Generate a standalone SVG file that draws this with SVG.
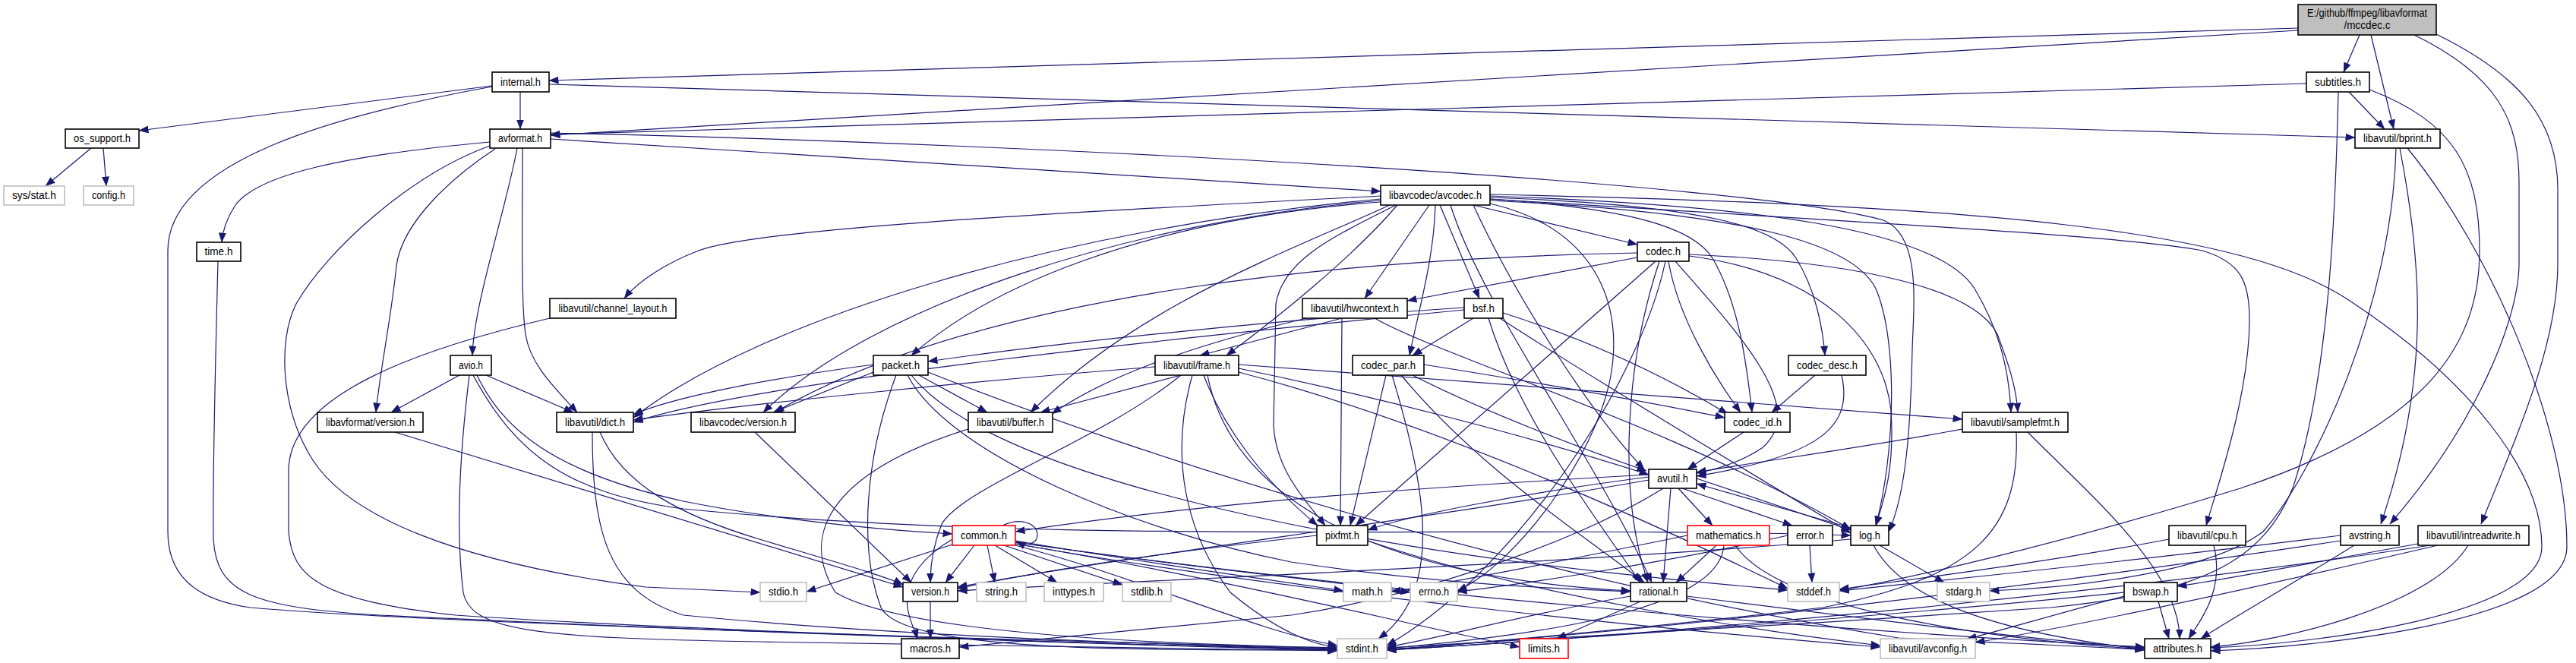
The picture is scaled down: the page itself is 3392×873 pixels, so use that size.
<svg xmlns="http://www.w3.org/2000/svg" width="3392" height="873" viewBox="0 0 3392 873">
<defs>
<marker id="ah" markerWidth="13" markerHeight="10" refX="12.5" refY="5" orient="auto" markerUnits="userSpaceOnUse"><path d="M0,0 L13,5 L0,10 z" fill="#191970"/></marker>
</defs>
<style>
.e path{fill:none;stroke:#191970;stroke-width:1.2;marker-end:url(#ah)}
.n rect{fill:#ffffff;stroke:#000000;stroke-width:1.6}
.g rect{fill:#ffffff;stroke:#bfbfbf;stroke-width:1.6}
.r rect{fill:#ffffff;stroke:#ff0000;stroke-width:1.6}
text{font-family:"Liberation Sans",Arial,sans-serif;font-size:14px;fill:#000000;text-anchor:middle}
</style>
<rect width="3392" height="873" fill="#ffffff"/>
<g id="edges" class="e">
<path d="M3026,37 L723,106"/>
<path d="M3026,40 L725,178"/>
<path d="M3107,46 L3086,95"/>
<path d="M3122,46 L3152,170"/>
<path d="M3179,46 C3290,100 3317,160 3317,240 L3317,347 C3317,420 3260,560 3147,690"/>
<path d="M3208,45 C3320,100 3368,160 3368,250 L3368,347 C3368,450 3320,560 3267,690"/>
<path d="M685,121 L685,170"/>
<path d="M648,113 L183,172"/>
<path d="M648,114 C450,150 221,210 221,330 L221,700 C221,760 260,790 330,800 C500,815 900,828 1200,838 C1500,846 1650,850 1761,854"/>
<path d="M723,111 L3101,181"/>
<path d="M3037,110 L725,177"/>
<path d="M3093,121 L3140,170"/>
<path d="M3079,121 C3075,300 3065,500 3020,640 C2980,740 2900,780 2700,800 C2400,820 2000,845 1826,853"/>
<path d="M3120,118 C3230,160 3265,220 3265,330 C3265,450 3200,560 2950,643 C2700,720 2500,765 2422,777"/>
<path d="M120,195 L60,245"/>
<path d="M136,195 L140,245"/>
<path d="M645,187 C450,205 340,230 310,270 C297,290 293,305 292,319"/>
<path d="M645,192 C540,230 430,330 390,400 C365,450 370,540 412,606 C460,680 600,740 850,773 L1001,780"/>
<path d="M652,196 C600,230 530,290 522,350 C515,420 500,490 495,543"/>
<path d="M681,195 C665,280 624,400 622,468"/>
<path d="M688,195 C688,300 686,400 692,440 C698,480 730,510 760,543"/>
<path d="M725,183 L1818,252"/>
<path d="M725,175 C1400,190 2300,240 2480,290 C2530,310 2520,400 2518,460 C2516,560 2510,650 2487,700"/>
<path d="M1940,270 L2156,322"/>
<path d="M1882,270 L1797,393"/>
<path d="M1896,270 L1948,393"/>
<path d="M1890,270 C1888,340 1870,400 1856,468"/>
<path d="M1962,262 C2150,275 2230,300 2255,340 C2290,400 2300,480 2307,543"/>
<path d="M1962,260 C2250,270 2340,300 2365,340 C2390,380 2400,430 2403,468"/>
<path d="M1962,264 C2300,280 2440,320 2470,380 C2500,450 2495,600 2470,692"/>
<path d="M1962,258 C2300,270 2550,300 2600,380 C2630,430 2645,480 2648,543"/>
<path d="M1962,262 C2400,290 2800,310 2900,330 C2950,345 2962,370 2962,420 C2962,520 2920,640 2905,692"/>
<path d="M1962,256 C2600,270 2960,300 3100,400 C3250,500 3347,620 3347,720 C3347,810 3050,848 2911,853"/>
<path d="M1840,270 C1780,340 1680,420 1615,468"/>
<path d="M1818,266 C1500,290 1300,380 1200,468"/>
<path d="M1830,270 C1700,330 1500,400 1357,543"/>
<path d="M1818,262 C1400,300 1000,420 834,550"/>
<path d="M1818,258 C1400,280 1000,300 920,330 C880,345 840,370 822,393"/>
<path d="M1818,264 C1500,290 1150,400 1005,543"/>
<path d="M1838,270 C1760,310 1690,340 1680,400 L1677,560 C1680,620 1720,660 1745,692"/>
<path d="M1962,268 C2100,300 2140,400 2120,500 C2100,600 2000,740 1919,778"/>
<path d="M1910,270 C1950,400 2100,600 2175,767"/>
<path d="M1940,270 C2000,400 2100,550 2165,618"/>
<path d="M2156,339 L1853,396"/>
<path d="M2156,333 C1800,340 1300,380 1020,543"/>
<path d="M2180,344 L1785,692"/>
<path d="M2193,344 C2160,500 2000,750 1826,850"/>
<path d="M2185,344 C2140,480 2130,650 2170,767"/>
<path d="M2206,344 C2300,450 2380,540 2320,590 C2290,610 2260,618 2234,623"/>
<path d="M2197,344 C2210,420 2260,500 2292,543"/>
<path d="M2224,337 C2400,360 2480,450 2490,540 C2495,620 2480,660 2470,692"/>
<path d="M2224,335 C2450,345 2600,380 2630,440 C2645,480 2655,510 2657,543"/>
<path d="M2390,494 L2333,543"/>
<path d="M2425,494 C2440,560 2400,600 2234,627"/>
<path d="M2296,569 L2222,618"/>
<path d="M1940,419 L1860,468"/>
<path d="M1928,405 C1700,420 1400,450 1222,476"/>
<path d="M1928,408 C1600,440 1000,500 834,556"/>
<path d="M1979,412 C2100,450 2200,500 2275,545"/>
<path d="M1975,419 C2100,500 2300,620 2437,702"/>
<path d="M1960,419 C2000,550 2100,680 2160,767"/>
<path d="M1875,480 C2000,500 2150,525 2271,550"/>
<path d="M1860,494 C1950,540 2080,590 2168,620"/>
<path d="M1825,494 L1778,692"/>
<path d="M1833,494 C1880,650 1900,780 1815,841"/>
<path d="M1845,494 C1950,620 2080,700 2165,767"/>
<path d="M1767,419 L1580,468"/>
<path d="M1720,419 C1550,460 1450,500 1385,545"/>
<path d="M1767,419 L1765,692"/>
<path d="M1810,419 C1900,470 2200,560 2437,697"/>
<path d="M1555,494 L1370,543"/>
<path d="M1521,483 C1300,500 1000,530 834,553"/>
<path d="M1631,485 C1800,520 2000,570 2171,625"/>
<path d="M1631,480 C1900,500 2300,530 2584,552"/>
<path d="M1585,494 C1610,560 1660,630 1735,692"/>
<path d="M1555,494 C1450,580 1270,640 1240,690 C1228,720 1225,745 1225,767"/>
<path d="M1570,494 C1540,600 1560,700 1620,780 C1680,830 1730,850 1761,852"/>
<path d="M1590,494 C1620,650 1800,760 2147,778"/>
<path d="M1631,490 C1900,560 2200,700 2354,775"/>
<path d="M1275,565 C1100,620 1050,700 1100,780 C1200,840 1600,850 1761,853"/>
<path d="M1150,490 L1018,543"/>
<path d="M1150,480 C1000,500 880,525 834,546"/>
<path d="M1210,494 L1300,543"/>
<path d="M1180,494 C1140,600 1130,720 1160,800 C1190,860 1500,855 1761,856"/>
<path d="M1195,494 C1250,600 1500,700 1700,740 C1900,770 2050,775 2147,779"/>
<path d="M1200,494 C1300,620 1700,700 2000,740 C2200,765 2300,772 2354,777"/>
<path d="M1222,490 C1500,600 2000,760 2500,840 C2700,850 2780,852 2824,856"/>
<path d="M605,494 L515,543"/>
<path d="M640,494 L755,543"/>
<path d="M618,494 C605,600 600,700 610,780 C620,830 700,840 1000,845 C1400,850 1650,854 1761,857"/>
<path d="M628,494 C660,560 720,620 900,660 C1050,690 1200,700 1254,703"/>
<path d="M623,494 C680,600 750,650 900,670 C1400,720 2000,690 2437,705"/>
<path d="M520,569 L1189,773"/>
<path d="M780,569 C780,700 800,780 900,810 C1200,840 1600,850 1761,855"/>
<path d="M790,569 C820,640 900,680 1000,710 C1100,740 1170,760 1189,770"/>
<path d="M724,419 C550,460 380,520 380,620 L380,700 C385,760 420,790 600,810 C900,830 1500,850 1761,855"/>
<path d="M287,344 C283,500 280,650 281,710 C285,780 330,800 500,810 C900,830 1500,850 1761,856"/>
<path d="M994,569 L1200,767"/>
<path d="M1254,717 L1062,779"/>
<path d="M1283,718 L1245,767"/>
<path d="M1300,718 L1310,767"/>
<path d="M1310,718 L1392,767"/>
<path d="M1322,718 L1478,770"/>
<path d="M1254,710 C1220,730 1190,760 1195,800 C1198,820 1205,830 1208,841"/>
<path d="M1337,712 C1500,740 1650,760 1769,778"/>
<path d="M1337,714 C1550,745 1750,765 1857,780"/>
<path d="M1337,716 C1600,760 1800,810 2001,852"/>
<path d="M1337,718 C1500,760 1650,830 1761,850"/>
<path d="M1337,714 C1800,780 2400,830 2824,852"/>
<path d="M1337,716 C1700,780 2200,830 2476,852"/>
<path d="M1320,692 C1345,680 1366,690 1366,704 C1366,716 1352,720 1338,713"/>
<path d="M1734,705 C1600,720 1400,745 1261,775"/>
<path d="M1801,712 C2000,780 2300,830 2476,850"/>
<path d="M2171,625 C1900,640 1600,660 1337,700"/>
<path d="M2215,643 L2360,692"/>
<path d="M2200,643 L2190,767"/>
<path d="M2171,632 C1900,680 1500,730 1261,773"/>
<path d="M2190,643 C2100,700 1900,780 1700,810 C1500,830 1350,845 1263,852"/>
<path d="M2210,643 L2255,692"/>
<path d="M2234,630 L2437,698"/>
<path d="M2171,628 C2000,650 1850,680 1801,698"/>
<path d="M2437,695 L2234,637"/>
<path d="M2475,718 L2560,767"/>
<path d="M2467,718 C2500,780 2600,830 2824,855"/>
<path d="M2437,710 C2100,740 1600,760 1261,778"/>
<path d="M2354,705 C2200,740 2000,770 1919,779"/>
<path d="M2383,718 L2386,767"/>
<path d="M2222,705 C2050,740 1900,770 1832,779"/>
<path d="M2260,718 L2207,767"/>
<path d="M2270,718 C2265,790 2100,830 1826,854"/>
<path d="M2285,718 C2340,800 2600,840 2824,855"/>
<path d="M2147,785 C2000,810 1900,840 1826,852"/>
<path d="M2160,792 L2050,841"/>
<path d="M2221,785 C2500,820 2700,845 2824,853"/>
<path d="M1225,792 L1225,841"/>
<path d="M2584,565 C2450,590 2300,610 2234,622"/>
<path d="M2655,569 C2660,700 2600,760 2400,800 C2100,835 1900,850 1826,856"/>
<path d="M2670,569 C2750,650 2870,750 2870,841"/>
<path d="M2856,710 C2700,740 2500,765 2422,776"/>
<path d="M2915,718 C2930,780 2895,820 2882,841"/>
<path d="M3082,705 C2800,740 2550,765 2422,778"/>
<path d="M3082,712 C2700,770 2200,830 1826,855"/>
<path d="M3100,718 C3000,780 2930,820 2898,841"/>
<path d="M3184,716 C3050,740 2920,765 2867,772"/>
<path d="M3200,718 C2800,780 2200,835 1826,856"/>
<path d="M3210,718 C2900,790 2700,830 2601,846"/>
<path d="M3250,718 C3200,800 3000,845 2911,852"/>
<path d="M2842,792 L2856,841"/>
<path d="M2797,785 C2700,810 2620,835 2590,841"/>
<path d="M2797,780 C2500,810 2100,840 1826,856"/>
<path d="M3160,195 C3190,350 3200,500 3135,690"/>
<path d="M3155,195 C3150,400 3050,620 2980,700 C2900,760 2700,775 2620,778"/>
<path d="M3170,195 C3280,330 3380,560 3380,720 C3380,820 3050,852 2911,857"/>
</g>
<g id="node-mccdec"><rect x="3026" y="6" width="182" height="40" style="fill:#bfbfbf;stroke:#000000;stroke-width:1.6"/><text x="3117" y="22" textLength="158" lengthAdjust="spacingAndGlyphs">E:/github/ffmpeg/libavformat</text><text x="3117" y="38" textLength="61" lengthAdjust="spacingAndGlyphs">/mccdec.c</text></g>
<g id="node-internal" class="n"><rect x="648" y="95" width="75" height="26"/><text x="685.5" y="112.5" textLength="53" lengthAdjust="spacingAndGlyphs">internal.h</text></g>
<g id="node-subtitles" class="n"><rect x="3037" y="95" width="83" height="26"/><text x="3078.5" y="112.5" textLength="61" lengthAdjust="spacingAndGlyphs">subtitles.h</text></g>
<g id="node-os_support" class="n"><rect x="86" y="170" width="97" height="25"/><text x="134.5" y="187" textLength="75" lengthAdjust="spacingAndGlyphs">os_support.h</text></g>
<g id="node-avformat" class="n"><rect x="645" y="170" width="80" height="25"/><text x="685" y="187" textLength="58" lengthAdjust="spacingAndGlyphs">avformat.h</text></g>
<g id="node-bprint" class="n"><rect x="3101" y="170" width="112" height="25"/><text x="3157" y="187" textLength="90" lengthAdjust="spacingAndGlyphs">libavutil/bprint.h</text></g>
<g id="node-sysstat" class="g"><rect x="5" y="245" width="80" height="25"/><text x="45" y="262" textLength="58" lengthAdjust="spacingAndGlyphs">sys/stat.h</text></g>
<g id="node-config" class="g"><rect x="110" y="245" width="66" height="25"/><text x="143" y="262" textLength="44" lengthAdjust="spacingAndGlyphs">config.h</text></g>
<g id="node-avcodec" class="n"><rect x="1818" y="244" width="144" height="26"/><text x="1890" y="261.5" textLength="122" lengthAdjust="spacingAndGlyphs">libavcodec/avcodec.h</text></g>
<g id="node-time" class="n"><rect x="259" y="319" width="58" height="25"/><text x="288" y="336" textLength="37" lengthAdjust="spacingAndGlyphs">time.h</text></g>
<g id="node-codec" class="n"><rect x="2156" y="319" width="68" height="25"/><text x="2190" y="336" textLength="46" lengthAdjust="spacingAndGlyphs">codec.h</text></g>
<g id="node-channel_layout" class="n"><rect x="724" y="393" width="166" height="26"/><text x="807" y="410.5" textLength="143" lengthAdjust="spacingAndGlyphs">libavutil/channel_layout.h</text></g>
<g id="node-hwcontext" class="n"><rect x="1715" y="393" width="138" height="26"/><text x="1784" y="410.5" textLength="116" lengthAdjust="spacingAndGlyphs">libavutil/hwcontext.h</text></g>
<g id="node-bsf" class="n"><rect x="1928" y="393" width="51" height="26"/><text x="1953.5" y="410.5" textLength="29" lengthAdjust="spacingAndGlyphs">bsf.h</text></g>
<g id="node-avio" class="n"><rect x="593" y="468" width="54" height="26"/><text x="620" y="485.5" textLength="32" lengthAdjust="spacingAndGlyphs">avio.h</text></g>
<g id="node-packet" class="n"><rect x="1150" y="468" width="72" height="26"/><text x="1186" y="485.5" textLength="50" lengthAdjust="spacingAndGlyphs">packet.h</text></g>
<g id="node-frame" class="n"><rect x="1521" y="468" width="110" height="26"/><text x="1576" y="485.5" textLength="88" lengthAdjust="spacingAndGlyphs">libavutil/frame.h</text></g>
<g id="node-codec_par" class="n"><rect x="1781" y="468" width="94" height="26"/><text x="1828" y="485.5" textLength="72" lengthAdjust="spacingAndGlyphs">codec_par.h</text></g>
<g id="node-codec_desc" class="n"><rect x="2355" y="468" width="102" height="26"/><text x="2406" y="485.5" textLength="80" lengthAdjust="spacingAndGlyphs">codec_desc.h</text></g>
<g id="node-lavf_version" class="n"><rect x="418" y="543" width="139" height="26"/><text x="487.5" y="560.5" textLength="117" lengthAdjust="spacingAndGlyphs">libavformat/version.h</text></g>
<g id="node-dict" class="n"><rect x="733" y="543" width="101" height="26"/><text x="783.5" y="560.5" textLength="79" lengthAdjust="spacingAndGlyphs">libavutil/dict.h</text></g>
<g id="node-lavc_version" class="n"><rect x="910" y="543" width="137" height="26"/><text x="978.5" y="560.5" textLength="115" lengthAdjust="spacingAndGlyphs">libavcodec/version.h</text></g>
<g id="node-buffer" class="n"><rect x="1275" y="543" width="111" height="26"/><text x="1330.5" y="560.5" textLength="89" lengthAdjust="spacingAndGlyphs">libavutil/buffer.h</text></g>
<g id="node-codec_id" class="n"><rect x="2271" y="543" width="86" height="26"/><text x="2314" y="560.5" textLength="64" lengthAdjust="spacingAndGlyphs">codec_id.h</text></g>
<g id="node-samplefmt" class="n"><rect x="2584" y="543" width="139" height="26"/><text x="2653.5" y="560.5" textLength="117" lengthAdjust="spacingAndGlyphs">libavutil/samplefmt.h</text></g>
<g id="node-avutil" class="n"><rect x="2171" y="618" width="63" height="25"/><text x="2202.5" y="635" textLength="41" lengthAdjust="spacingAndGlyphs">avutil.h</text></g>
<g id="node-common" class="r"><rect x="1254" y="692" width="83" height="26"/><text x="1295.5" y="709.5" textLength="61" lengthAdjust="spacingAndGlyphs">common.h</text></g>
<g id="node-pixfmt" class="n"><rect x="1734" y="692" width="67" height="26"/><text x="1767.5" y="709.5" textLength="45" lengthAdjust="spacingAndGlyphs">pixfmt.h</text></g>
<g id="node-mathematics" class="r"><rect x="2222" y="692" width="108" height="26"/><text x="2276" y="709.5" textLength="86" lengthAdjust="spacingAndGlyphs">mathematics.h</text></g>
<g id="node-error" class="n"><rect x="2354" y="692" width="59" height="26"/><text x="2383.5" y="709.5" textLength="37" lengthAdjust="spacingAndGlyphs">error.h</text></g>
<g id="node-log" class="n"><rect x="2437" y="692" width="50" height="26"/><text x="2462" y="709.5" textLength="28" lengthAdjust="spacingAndGlyphs">log.h</text></g>
<g id="node-cpu" class="n"><rect x="2856" y="692" width="101" height="26"/><text x="2906.5" y="709.5" textLength="79" lengthAdjust="spacingAndGlyphs">libavutil/cpu.h</text></g>
<g id="node-avstring" class="n"><rect x="3082" y="692" width="77" height="26"/><text x="3120.5" y="709.5" textLength="55" lengthAdjust="spacingAndGlyphs">avstring.h</text></g>
<g id="node-intreadwrite" class="n"><rect x="3184" y="692" width="146" height="26"/><text x="3257" y="709.5" textLength="124" lengthAdjust="spacingAndGlyphs">libavutil/intreadwrite.h</text></g>
<g id="node-stdio" class="g"><rect x="1001" y="767" width="61" height="25"/><text x="1031.5" y="784" textLength="39" lengthAdjust="spacingAndGlyphs">stdio.h</text></g>
<g id="node-version" class="n"><rect x="1189" y="767" width="72" height="25"/><text x="1225" y="784" textLength="50" lengthAdjust="spacingAndGlyphs">version.h</text></g>
<g id="node-string" class="g"><rect x="1286" y="767" width="65" height="25"/><text x="1318.5" y="784" textLength="43" lengthAdjust="spacingAndGlyphs">string.h</text></g>
<g id="node-inttypes" class="g"><rect x="1375" y="767" width="78" height="25"/><text x="1414" y="784" textLength="56" lengthAdjust="spacingAndGlyphs">inttypes.h</text></g>
<g id="node-stdlib" class="g"><rect x="1478" y="767" width="64" height="25"/><text x="1510" y="784" textLength="42" lengthAdjust="spacingAndGlyphs">stdlib.h</text></g>
<g id="node-math" class="g"><rect x="1769" y="767" width="63" height="25"/><text x="1800.5" y="784" textLength="41" lengthAdjust="spacingAndGlyphs">math.h</text></g>
<g id="node-errno" class="g"><rect x="1857" y="767" width="62" height="25"/><text x="1888" y="784" textLength="40" lengthAdjust="spacingAndGlyphs">errno.h</text></g>
<g id="node-rational" class="n"><rect x="2147" y="767" width="74" height="25"/><text x="2184" y="784" textLength="52" lengthAdjust="spacingAndGlyphs">rational.h</text></g>
<g id="node-stddef" class="g"><rect x="2354" y="767" width="68" height="25"/><text x="2388" y="784" textLength="46" lengthAdjust="spacingAndGlyphs">stddef.h</text></g>
<g id="node-stdarg" class="g"><rect x="2551" y="767" width="69" height="25"/><text x="2585.5" y="784" textLength="47" lengthAdjust="spacingAndGlyphs">stdarg.h</text></g>
<g id="node-bswap" class="n"><rect x="2797" y="767" width="70" height="25"/><text x="2832" y="784" textLength="48" lengthAdjust="spacingAndGlyphs">bswap.h</text></g>
<g id="node-macros" class="n"><rect x="1187" y="841" width="76" height="26"/><text x="1225" y="858.5" textLength="54" lengthAdjust="spacingAndGlyphs">macros.h</text></g>
<g id="node-stdint" class="g"><rect x="1761" y="841" width="65" height="26"/><text x="1793.5" y="858.5" textLength="43" lengthAdjust="spacingAndGlyphs">stdint.h</text></g>
<g id="node-limits" class="r"><rect x="2001" y="841" width="64" height="26"/><text x="2033" y="858.5" textLength="42" lengthAdjust="spacingAndGlyphs">limits.h</text></g>
<g id="node-avconfig" class="g"><rect x="2476" y="841" width="125" height="26"/><text x="2538.5" y="858.5" textLength="103" lengthAdjust="spacingAndGlyphs">libavutil/avconfig.h</text></g>
<g id="node-attributes" class="n"><rect x="2824" y="841" width="87" height="26"/><text x="2867.5" y="858.5" textLength="65" lengthAdjust="spacingAndGlyphs">attributes.h</text></g>
</svg>
